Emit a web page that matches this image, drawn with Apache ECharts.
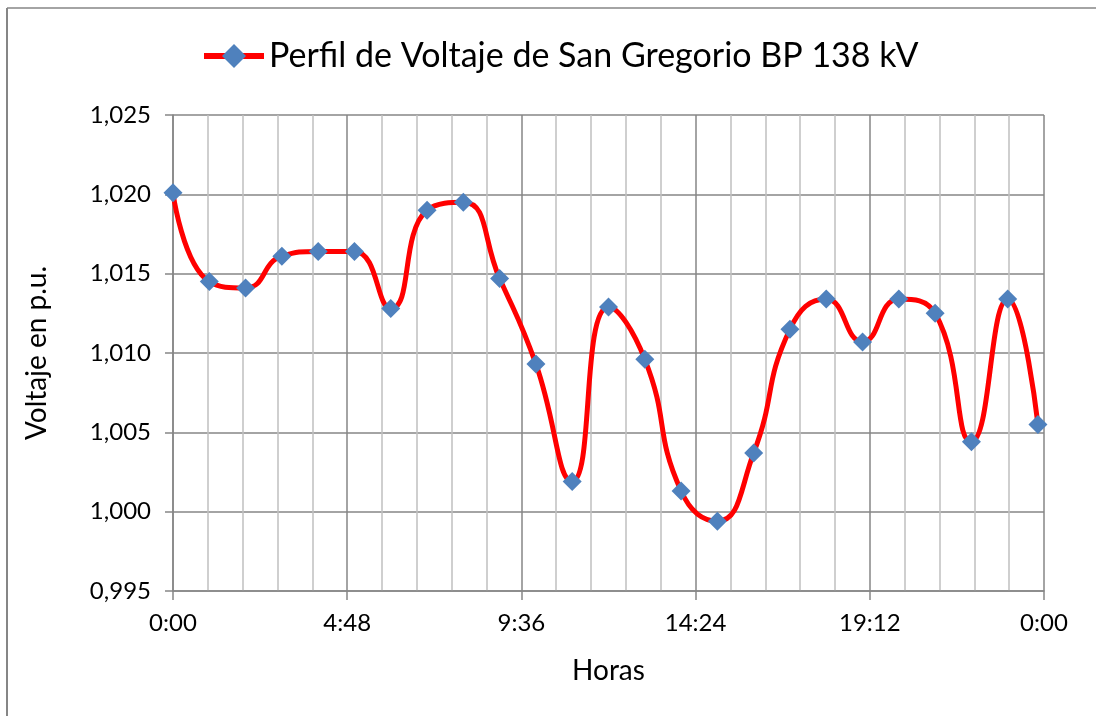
<!DOCTYPE html>
<html>
<head>
<meta charset="utf-8">
<script src="https://cdn.jsdelivr.net/npm/echarts@6/dist/echarts.min.js"></script>
<style>
  html, body { margin: 0; padding: 0; background: #fff; }
  #chart { width: 1096px; height: 716px; }
</style>
</head>
<body>
<div id="chart"></div>
<script>
// horas de cada medicion (la ultima cae poco antes de medianoche)
const horas = ['0:00','1:00','2:00','3:00','4:00','5:00','6:00','7:00','8:00','9:00','10:00','11:00',
  '12:00','13:00','14:00','15:00','16:00','17:00','18:00','19:00','20:00','21:00','22:00','23:00','23:50'];
const voltaje = [1.0201, 1.0145, 1.0141, 1.0161, 1.0164, 1.0164, 1.0128, 1.0190, 1.0195, 1.0147,
  1.0093, 1.0019, 1.0129, 1.0096, 1.0013, 0.9994, 1.0037, 1.0115, 1.0134, 1.0107,
  1.0134, 1.0125, 1.0044, 1.0134, 1.0055];
const xTicks = ['0:00', '4:48', '9:36', '14:24', '19:12', '0:00'];
const yTicks = [0.995, 1.000, 1.005, 1.010, 1.015, 1.020, 1.025];

function toMin(h) {
  const p = h.split(':');
  return (+p[0]) * 60 + (+p[1]);
}

const puntos = horas.map((h, i) => [toMin(h), voltaje[i]]);
const font = 'Lato, "Open Sans", sans-serif';

const myChart = echarts.init(document.getElementById('chart'));
myChart.setOption({
  backgroundColor: '#fff',
  animation: false,
  graphic: [
    { type: 'line', shape: { x1: 7, y1: 8, x2: 1096, y2: 8 }, style: { stroke: '#868686', lineWidth: 1.5 } },
    { type: 'line', shape: { x1: 7, y1: 8, x2: 7, y2: 716 }, style: { stroke: '#868686', lineWidth: 2 } }
  ],
  legend: {
    left: 196,
    top: 34,
    itemWidth: 60,
    itemHeight: 30,
    itemGap: 4,
    lineStyle: { width: 6 },
    textStyle: { fontFamily: font, fontSize: 34, color: '#000' },
    data: ['Perfil de Voltaje de San Gregorio BP 138 kV']
  },
  grid: { left: 173, right: 52, top: 115, bottom: 125 },
  xAxis: {
    type: 'value',
    min: 0,
    max: 1440,
    interval: 288,
    name: 'Horas',
    nameLocation: 'middle',
    nameGap: 66,
    nameTextStyle: { fontFamily: font, fontSize: 28, color: '#000' },
    axisLine: { show: true, lineStyle: { color: '#868686', width: 1.5 } },
    axisTick: { show: true, length: 9, lineStyle: { color: '#868686', width: 1.5 } },
    axisLabel: {
      fontFamily: font, fontSize: 24, color: '#000', margin: 20,
      formatter: v => xTicks[Math.round(v / 288)]
    },
    splitLine: { show: true, lineStyle: { color: '#868686', width: 1.5 } },
    minorTick: { show: true, splitNumber: 5, length: 0 },
    minorSplitLine: { show: true, lineStyle: { color: '#c0c0c0', width: 1.5 } }
  },
  yAxis: {
    type: 'value',
    min: yTicks[0],
    max: yTicks[yTicks.length - 1],
    interval: 0.005,
    name: 'Voltaje en p.u.',
    nameLocation: 'middle',
    nameGap: 122,
    nameTextStyle: { fontFamily: font, fontSize: 28, color: '#000' },
    axisLine: { show: true, lineStyle: { color: '#868686', width: 1.5 } },
    axisTick: { show: true, length: 8, lineStyle: { color: '#868686', width: 1.5 } },
    axisLabel: {
      fontFamily: font, fontSize: 24, color: '#000', margin: 22,
      formatter: v => v.toFixed(3).replace('.', ',')
    },
    splitLine: { show: true, lineStyle: { color: '#868686', width: 1.5 } }
  },
  series: [{
    name: 'Perfil de Voltaje de San Gregorio BP 138 kV',
    type: 'line',
    data: puntos,
    smooth: 0.5,
    symbol: 'diamond',
    symbolSize: 19,
    lineStyle: { color: '#ff0000', width: 5 },
    itemStyle: { color: '#4f81bd' }
  }]
});
</script>
</body>
</html>
